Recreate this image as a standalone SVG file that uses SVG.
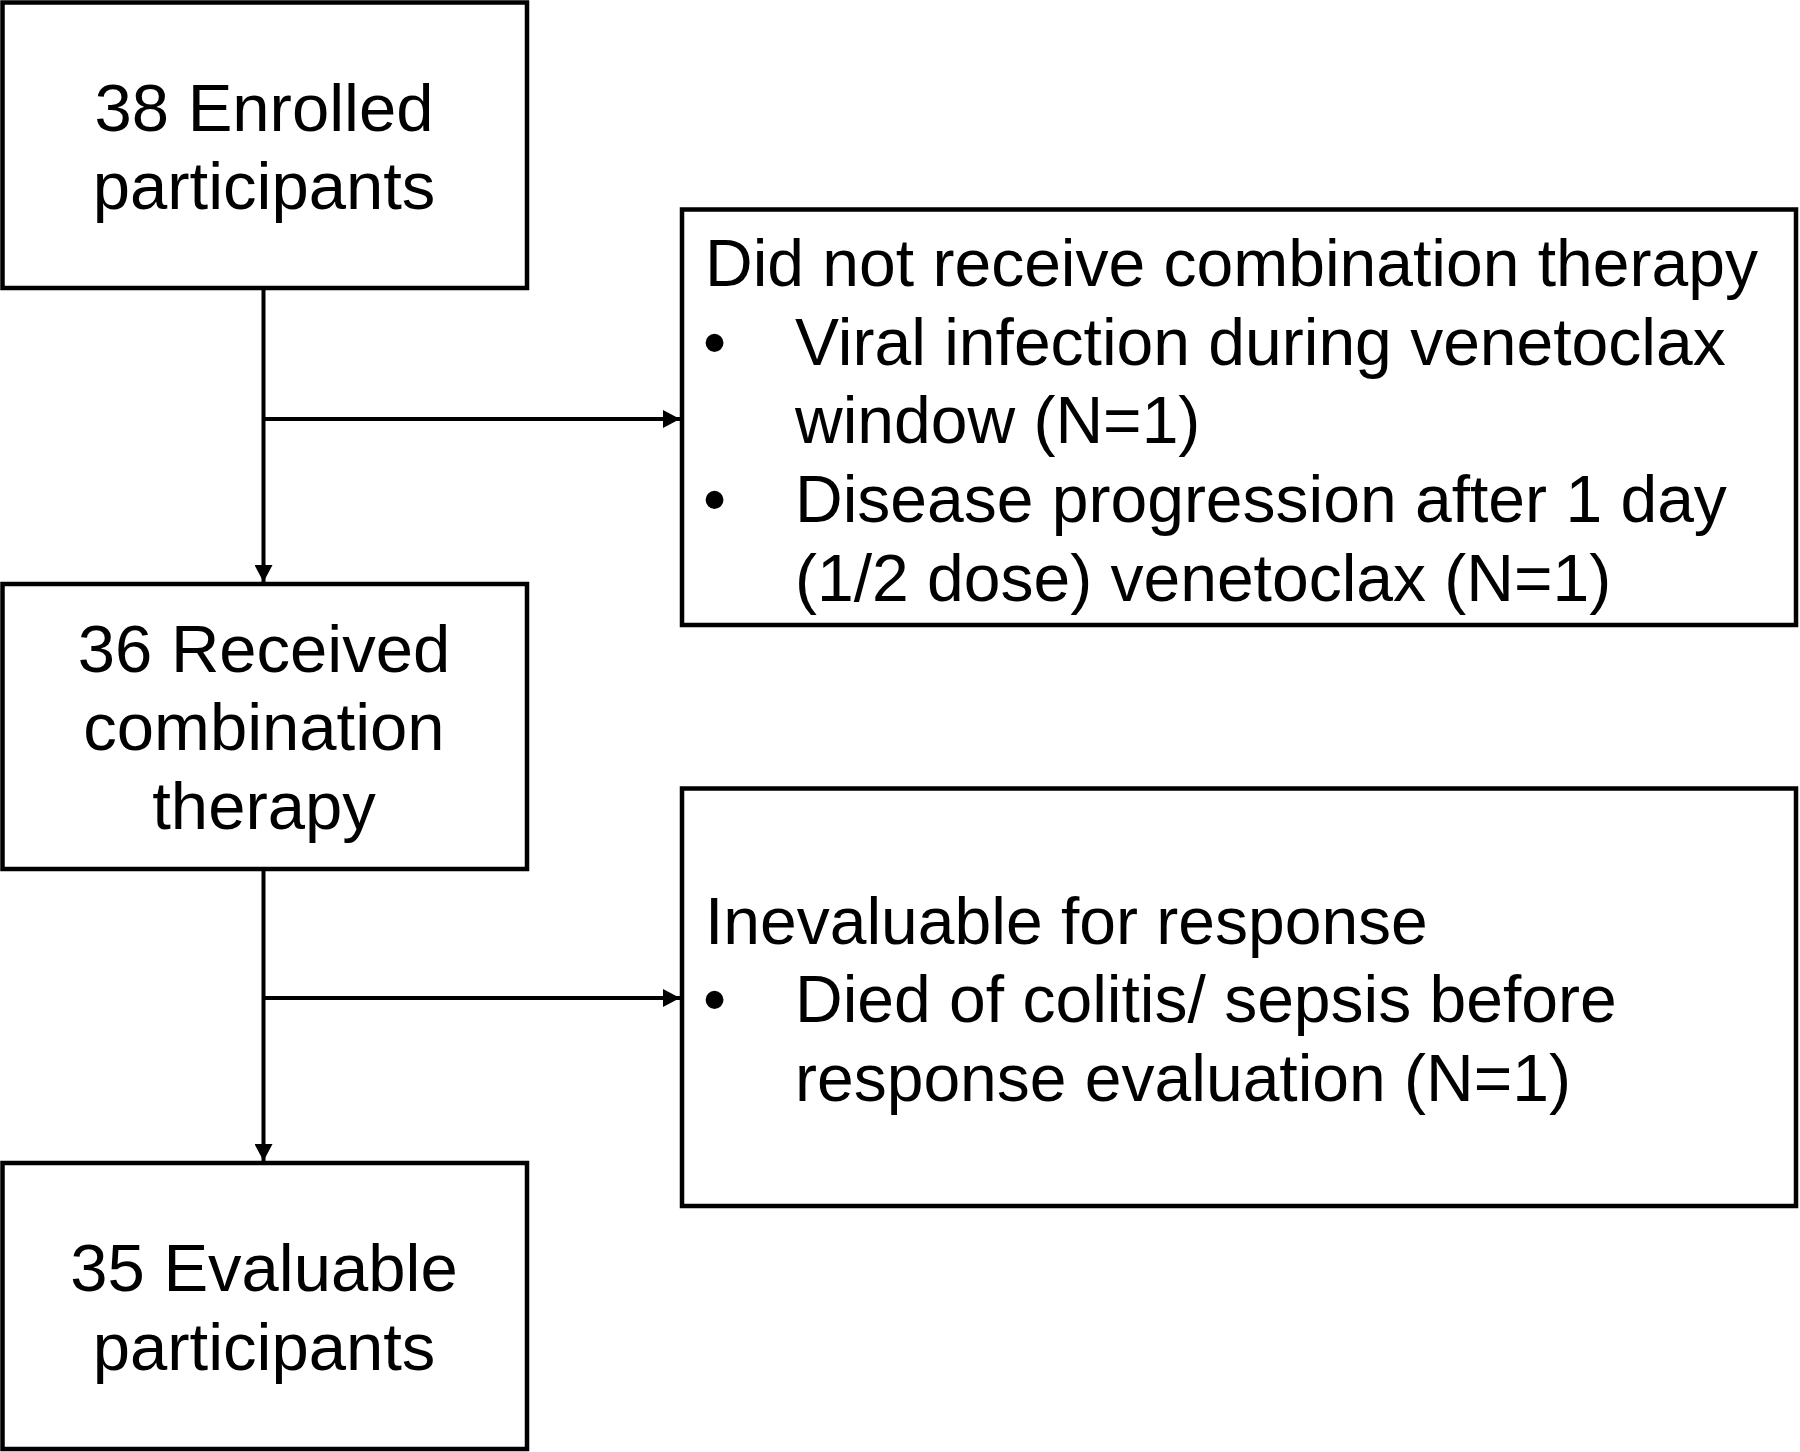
<svg xmlns="http://www.w3.org/2000/svg" width="1800" height="1452" viewBox="0 0 1800 1452">
  <style>
    .box { fill: #ffffff; stroke: #000000; stroke-width: 4.5; }
    .conn { fill: none; stroke: #000000; stroke-width: 4; }
    .lbl { font-family: "Liberation Sans", Arial, sans-serif; font-size: 67px; fill: #000000; }
    .lblc { text-anchor: middle; }
    .rt { font-family: "Liberation Sans", Arial, sans-serif; font-size: 66px; fill: #000000; }
  </style>
  <defs>
    <marker id="arrow" markerUnits="userSpaceOnUse" markerWidth="17" markerHeight="18" refX="17" refY="9" orient="auto">
      <path d="M0,0 L17,9 L0,18 Z" fill="#000000"/>
    </marker>
  </defs>
  <rect x="0" y="0" width="1800" height="1452" fill="#ffffff"/>

  <g id="connectors">
    <line class="conn" x1="263.5" y1="288" x2="263.5" y2="582" marker-end="url(#arrow)"/>
    <line class="conn" x1="263.5" y1="419" x2="680" y2="419" marker-end="url(#arrow)"/>
    <line class="conn" x1="263.5" y1="869" x2="263.5" y2="1161" marker-end="url(#arrow)"/>
    <line class="conn" x1="263.5" y1="998" x2="680" y2="998" marker-end="url(#arrow)"/>
  </g>

  <g id="enrolled">
    <rect class="box" x="2.5" y="2.5" width="524.5" height="285.5"/>
    <text class="lbl lblc" x="264" y="131">38 Enrolled</text>
    <text class="lbl lblc" x="264" y="209">participants</text>
  </g>

  <g id="received">
    <rect class="box" x="2.5" y="584" width="524.5" height="285"/>
    <text class="lbl lblc" x="264" y="672">36 Received</text>
    <text class="lbl lblc" x="264" y="750">combination</text>
    <text class="lbl lblc" x="264" y="829">therapy</text>
  </g>

  <g id="evaluable">
    <rect class="box" x="2.5" y="1163" width="524.5" height="286"/>
    <text class="lbl lblc" x="264" y="1291">35 Evaluable</text>
    <text class="lbl lblc" x="264" y="1370">participants</text>
  </g>

  <g id="not-received">
    <rect class="box" x="682" y="209.5" width="1114" height="415.5"/>
    <text class="rt" x="705" y="286">Did not receive combination therapy</text>
    <text class="rt" x="703" y="365">•</text>
    <text class="rt" x="795" y="365">Viral infection during venetoclax</text>
    <text class="rt" x="795" y="443">window (N=1)</text>
    <text class="rt" x="703" y="522">•</text>
    <text class="rt" x="795" y="522">Disease progression after 1 day</text>
    <text class="rt" x="795" y="601">(1/2 dose) venetoclax (N=1)</text>
  </g>

  <g id="inevaluable">
    <rect class="box" x="682" y="788.5" width="1114" height="417.5"/>
    <text class="rt" x="705" y="944">Inevaluable for response</text>
    <text class="rt" x="703" y="1022">•</text>
    <text class="rt" x="795" y="1022">Died of colitis/ sepsis before</text>
    <text class="rt" x="795" y="1101">response evaluation (N=1)</text>
  </g>
</svg>
